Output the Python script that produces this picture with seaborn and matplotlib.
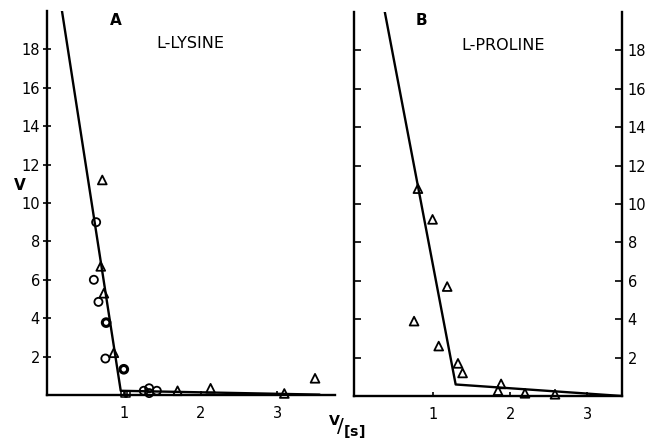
import matplotlib
matplotlib.use("Agg")
import matplotlib.pyplot as plt
import seaborn as sns
import numpy as np

# ---- data ----
lys_tri_x = [0.72, 0.70, 0.74, 0.87, 1.70, 2.13, 3.09, 3.49]
lys_tri_y = [11.2, 6.7, 5.3, 2.2, 0.22, 0.35, 0.08, 0.87]
lys_circ_x = [0.64, 0.61, 0.67, 0.76, 1.26, 1.33, 1.33, 1.43]
lys_circ_y = [9.0, 6.0, 4.85, 1.9, 0.22, 0.35, 0.10, 0.22]
lys_bold_x = [0.77, 1.00]
lys_bold_y = [3.77, 1.34]
lys_sq_x = [1.00, 1.05]
lys_sq_y = [0.05, 0.05]
lys_fit_x = [0.195, 0.96, 3.55]
lys_fit_y = [20.0, 0.22, 0.02]

pro_tri_x = [0.80, 0.99, 1.18, 0.75, 1.07, 1.32, 1.38, 1.88, 1.84, 2.19, 2.58]
pro_tri_y = [10.8, 9.2, 5.7, 3.9, 2.6, 1.7, 1.2, 0.63, 0.28, 0.14, 0.09]
pro_fit_x = [0.37, 1.29, 3.45]
pro_fit_y = [20.0, 0.6, 0.0]

yticks = [2, 4, 6, 8, 10, 12, 14, 16, 18]
xticks = [1, 2, 3]
xtick_labels = ["1", "2", "3"]

sns.set_style("white")
plt.rcParams["font.family"] = ["DejaVu Sans"]
plt.rcParams["mathtext.fontset"] = "dejavusans"
for k in ["text.color", "axes.labelcolor", "xtick.color", "ytick.color", "axes.edgecolor"]:
    plt.rcParams[k] = "black"

W, H = 652, 445
fig = plt.figure(figsize=(W / 100, H / 100), dpi=100)

def fx(px):
    return px / W

def fy(py):
    return 1 - py / H

axA = fig.add_axes([fx(47), fy(395), fx(335) - fx(47), fy(11) - fy(395)])
axB = fig.add_axes([fx(354), fy(396), fx(622) - fx(354), fy(12) - fy(396)])

lw = 1.7
tick_fs = 10.5

def open_scatter(ax, x, y, marker, s, elw=1.3):
    sns.scatterplot(x=x, y=y, ax=ax, marker=marker, s=s, facecolor="none",
                    edgecolor="black", linewidth=elw, zorder=3, clip_on=False)

# ---- Panel A ----
sns.lineplot(x=lys_fit_x, y=lys_fit_y, ax=axA, color="black", linewidth=lw,
             sort=False, estimator=None)
open_scatter(axA, lys_tri_x, lys_tri_y, "^", 40)
open_scatter(axA, lys_circ_x, lys_circ_y, "o", 34)
open_scatter(axA, lys_bold_x, lys_bold_y, "o", 30, elw=2.2)
open_scatter(axA, lys_sq_x, lys_sq_y, "s", 16, elw=1.1)
axA.set_xlim(0, 3.75)
axA.set_ylim(0, 20)
axA.spines["top"].set_visible(False)
axA.spines["right"].set_visible(False)
for s in ["left", "bottom"]:
    axA.spines[s].set_linewidth(lw)
axA.set_yticks(yticks)
axA.set_yticklabels([str(v) for v in yticks], fontsize=tick_fs)
axA.set_xticks(xticks)
axA.set_xticklabels(xtick_labels, fontsize=tick_fs)
axA.tick_params(axis="y", direction="inout", length=6, width=1.2, pad=2, left=True)
axA.tick_params(axis="x", direction="in", length=3, width=1.2, pad=8, bottom=True)
axA.text(0.9, 19.5, "A", fontsize=11, ha="center", va="center", fontweight="bold")
axA.text(1.87, 18.3, "L-LYSINE", fontsize=11.5, ha="center", va="center")

# ---- Panel B ----
sns.lineplot(x=pro_fit_x, y=pro_fit_y, ax=axB, color="black", linewidth=lw,
             sort=False, estimator=None)
open_scatter(axB, pro_tri_x, pro_tri_y, "^", 40)
axB.set_xlim(-0.03, 3.45)
axB.set_ylim(0, 20)
axB.spines["top"].set_visible(False)
for s in ["left", "bottom", "right"]:
    axB.spines[s].set_linewidth(lw)
axB.set_yticks(yticks)
axB.yaxis.set_ticks_position("both")
axB.tick_params(axis="y", direction="in", length=5, width=1.2, left=True, right=True,
                labelleft=False, labelright=True, labelsize=tick_fs, pad=4)
axB.set_xticks(xticks)
axB.set_xticklabels(xtick_labels, fontsize=tick_fs)
axB.tick_params(axis="x", direction="in", length=3, width=1.2, pad=8, bottom=True)
axB.text(0.85, 19.55, "B", fontsize=11, ha="center", va="center", fontweight="bold")
axB.text(1.91, 18.25, "L-PROLINE", fontsize=11.5, ha="center", va="center")

for ax in (axA, axB):
    ax.set_xlabel("")
    ax.set_ylabel("")

# axis labels
fig.text(fx(20), fy(185), "V", fontsize=11, ha="center", va="center", fontweight="bold")
fig.text(fx(347), fy(427), r"$^{\mathbf{V}}\!/_{\mathbf{[s]}}$", fontsize=14.5,
         ha="center", va="center")

fig.savefig("out.png", dpi=100, facecolor="white")
